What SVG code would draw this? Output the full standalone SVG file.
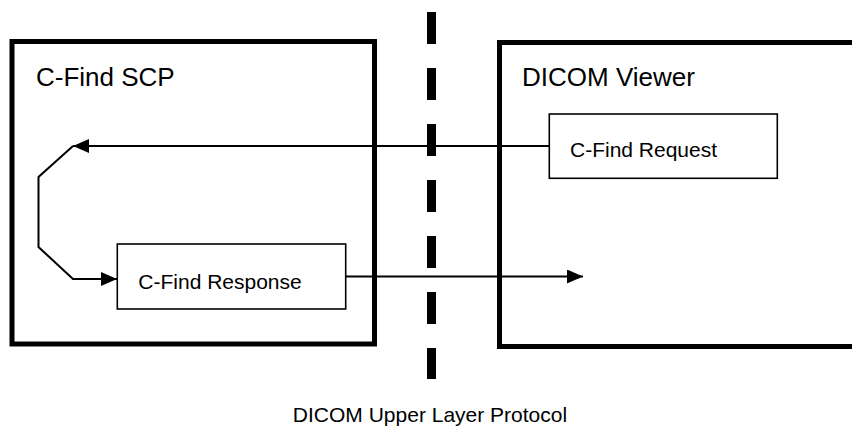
<svg xmlns="http://www.w3.org/2000/svg" width="852" height="427" viewBox="0 0 852 427">
<style>
.big{fill:none;stroke:#000;stroke-width:5}
.box{fill:#fff;stroke:#000;stroke-width:1.6}
.ln{fill:none;stroke:#000;stroke-width:2}
.t1{font-family:"Liberation Sans",Arial,sans-serif;font-size:26px;fill:#000}
.t2{font-family:"Liberation Sans",Arial,sans-serif;font-size:21px;fill:#000}
</style>
<defs>
<marker id="ah" markerWidth="16" markerHeight="14" refX="16" refY="7" orient="auto" markerUnits="userSpaceOnUse">
<path d="M0,0 L16,7 L0,14 Z" fill="#000"/>
</marker>
</defs>
<rect width="852" height="427" fill="#fff"/>
<g id="scp">
<rect class="big" x="12" y="41.5" width="362.5" height="302.5"/>
<text class="t1" x="36" y="86">C-Find SCP</text>
</g>
<g id="viewer">
<rect class="big" x="499.5" y="42.5" width="370" height="304"/>
<text class="t1" x="522" y="86">DICOM Viewer</text>
</g>
<g id="boundary">
<line x1="431.5" y1="12" x2="431.5" y2="379" stroke="#000" stroke-width="9" stroke-dasharray="32 24"/>
<text class="t2" x="430" y="422" text-anchor="middle">DICOM Upper Layer Protocol</text>
</g>
<g id="connectors">
<line class="ln" x1="549" y1="146" x2="73" y2="146" marker-end="url(#ah)"/>
<polyline class="ln" points="73,146 38.5,177 38.5,247 73,279 117,279" marker-end="url(#ah)"/>
<line class="ln" x1="346" y1="276.5" x2="583" y2="276.5" marker-end="url(#ah)"/>
</g>
<g id="request">
<rect class="box" x="549.3" y="114" width="228" height="64.3"/>
<text class="t2" x="570" y="157.3">C-Find Request</text>
</g>
<g id="response">
<rect class="box" x="117.3" y="244" width="228.4" height="65"/>
<text class="t2" x="138.3" y="289">C-Find Response</text>
</g>
</svg>
